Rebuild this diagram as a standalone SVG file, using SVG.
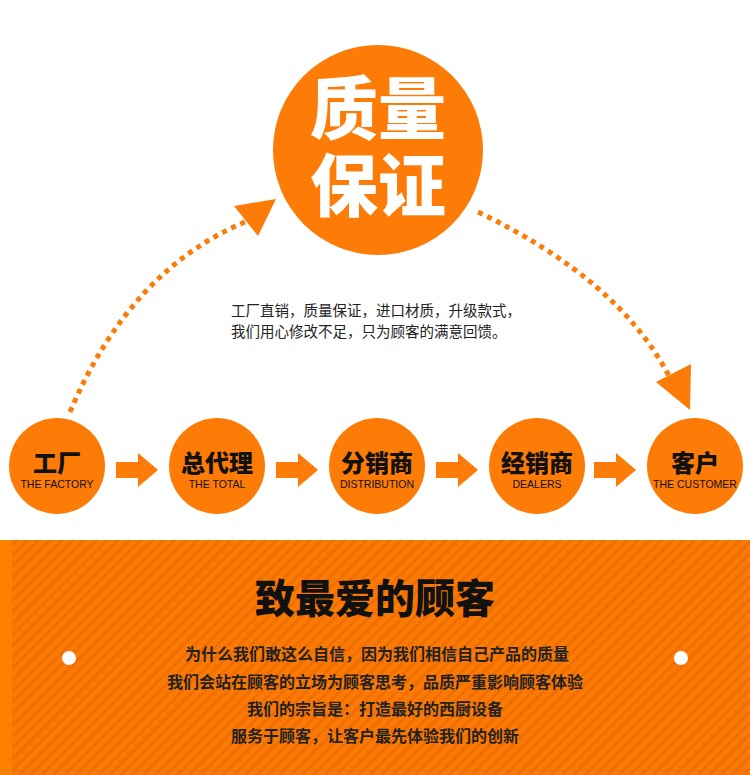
<svg xmlns="http://www.w3.org/2000/svg" width="750" height="775" viewBox="0 0 750 775">
<style>
.c{fill:#fd7b07}
.cn{font-family:"Noto Sans CJK SC",sans-serif;font-weight:900;fill:#111;text-anchor:middle}
.en{font-family:"Liberation Sans",Arial,sans-serif;font-size:10.5px;fill:#111;text-anchor:middle}
.body{font-family:"Noto Sans CJK SC",sans-serif;font-size:14.5px;fill:#222}
.bt{font-family:"Noto Sans CJK SC",sans-serif;font-size:16px;font-weight:700;fill:#222;text-anchor:middle}
.dot{fill:none;stroke:#fd7b07;stroke-width:5;stroke-dasharray:5 5}
</style>
<defs>
<pattern id="st" width="8" height="8" patternUnits="userSpaceOnUse" patternTransform="rotate(45)">
<rect width="8" height="8" fill="#fb7a05"/><rect width="3" height="8" fill="#f06f00"/>
</pattern>
</defs>
<rect width="750" height="775" fill="#fff"/>
<g id="connectors">
<path class="dot" d="M70 412 Q130 270 245 222"/>
<polygon class="c" points="234,206 258,236 276,199"/>
<path class="dot" d="M478 212 Q620 280 670 378"/>
<polygon class="c" points="656,382 690,410 691,364"/>
<polygon class="c" points="116,462 138,462 138,453 158,470 138,487 138,478 116,478"/>
<polygon class="c" points="276,462 298,462 298,453 318,470 298,487 298,478 276,478"/>
<polygon class="c" points="436,462 458,462 458,453 478,470 458,487 458,478 436,478"/>
<polygon class="c" points="594,462 616,462 616,453 636,470 616,487 616,478 594,478"/>
</g>
<g id="quality">
<circle class="c" cx="378" cy="150" r="105"/>
<text class="cn" x="378" y="134" font-size="68" style="fill:#fff">质量</text>
<text class="cn" x="378" y="211" font-size="68" style="fill:#fff">保证</text>
</g>
<g id="desc">
<text class="body" x="231" y="316">工厂直销，质量保证，进口材质，升级款式，</text>
<text class="body" x="231" y="337">我们用心修改不足，只为顾客的满意回馈。</text>
</g>
<g id="factory"><circle class="c" cx="57" cy="466" r="48"/><text class="cn" x="57" y="472" font-size="24">工厂</text><text class="en" x="57" y="488">THE FACTORY</text></g>
<g id="total"><circle class="c" cx="217" cy="466" r="48"/><text class="cn" x="217" y="472" font-size="24">总代理</text><text class="en" x="217" y="488">THE TOTAL</text></g>
<g id="distribution"><circle class="c" cx="377" cy="466" r="48"/><text class="cn" x="377" y="472" font-size="24">分销商</text><text class="en" x="377" y="488">DISTRIBUTION</text></g>
<g id="dealers"><circle class="c" cx="537" cy="466" r="48"/><text class="cn" x="537" y="472" font-size="24">经销商</text><text class="en" x="537" y="488">DEALERS</text></g>
<g id="customer"><circle class="c" cx="695" cy="466" r="48"/><text class="cn" x="695" y="472" font-size="24">客户</text><text class="en" x="695" y="488">THE CUSTOMER</text></g>
<g id="panel">
<rect x="0" y="540" width="750" height="235" fill="url(#st)"/>
<rect x="0" y="540" width="12" height="235" fill="#fd8000"/>
<circle cx="69" cy="658" r="7" fill="#fff"/>
<circle cx="681" cy="658" r="7" fill="#fff"/>
<text class="cn" x="375" y="613" font-size="40">致最爱的顾客</text>
<text class="bt" x="377" y="660">为什么我们敢这么自信，因为我们相信自己产品的质量</text>
<text class="bt" x="375" y="688">我们会站在顾客的立场为顾客思考，品质严重影响顾客体验</text>
<text class="bt" x="375" y="715">我们的宗旨是：打造最好的西厨设备</text>
<text class="bt" x="375" y="742">服务于顾客，让客户最先体验我们的创新</text>
</g>
</svg>
